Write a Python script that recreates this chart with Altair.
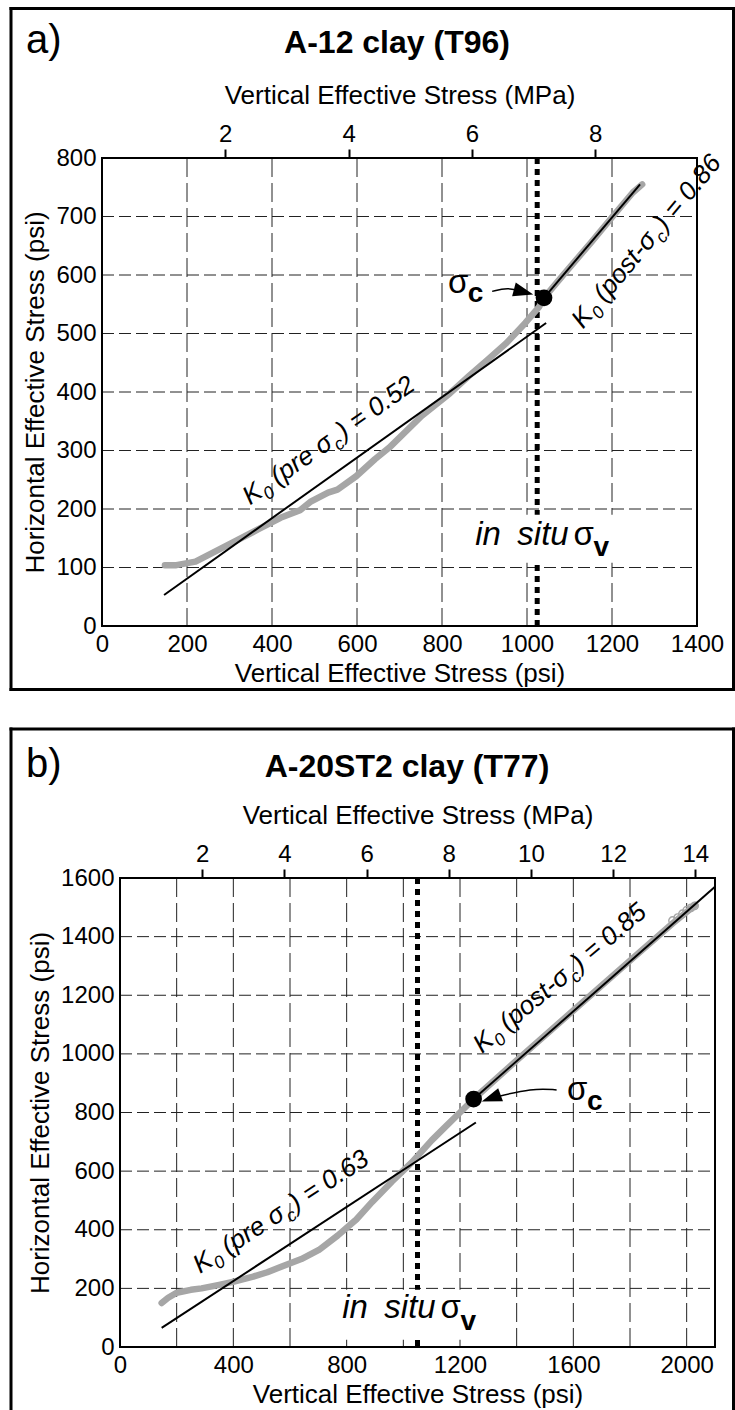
import altair as alt
import pandas as pd

FONT = "Liberation Sans"
PSI_PER_MPA = 145.038
GRAY = "#a6a6a6"
W, H = 735, 1410

# ---------------- panel a : A-12 clay (T96) ----------------
A_TITLE = "A-12 clay (T96)"
A_LETTER = "a)"
A_X_TICKS = [0, 200, 400, 600, 800, 1000, 1200, 1400]
A_Y_TICKS = [0, 100, 200, 300, 400, 500, 600, 700, 800]
A_MPA_TICKS = [2, 4, 6, 8]
A_CURVE_X = [148, 175, 220, 260, 300, 367, 420, 466, 490, 532, 554, 598, 642, 676,
             752, 819, 863, 907, 952, 996, 1029, 1040, 1084, 1150, 1205, 1249, 1271]
A_CURVE_Y = [104, 104, 110, 125, 140, 165, 185, 198, 212, 228, 233, 256, 285, 305,
             359, 398, 427, 455, 484, 518, 546, 561, 599, 655, 703, 741, 755]
A_PRE_X = [146, 1045]
A_PRE_Y = [53, 518]
A_POST_X = [1040, 1266]
A_POST_Y = [561, 755]
A_SIGC_X = [1040]
A_SIGC_Y = [561]
A_INSITU_X = 1024
A_PRE_K = "0.52"
A_POST_K = "0.86"
A_ARROW_X = [918, 955, 992]
A_ARROW_Y = [572, 579, 571]

# ---------------- panel b : A-20ST2 clay (T77) ----------------
B_TITLE = "A-20ST2 clay (T77)"
B_LETTER = "b)"
B_X_TICKS = [0, 200, 400, 600, 800, 1000, 1200, 1400, 1600, 1800, 2000]
B_Y_TICKS = [0, 200, 400, 600, 800, 1000, 1200, 1400, 1600]
B_MPA_TICKS = [2, 4, 6, 8, 10, 12, 14]
B_CURVE_X = [147, 170, 200, 250, 288, 350, 402, 470, 520, 569, 640, 702, 768, 834,
             890, 960, 1030, 1100, 1149, 1200, 1248, 1400, 1600, 1800, 1950, 2030]
B_CURVE_Y = [150, 168, 185, 195, 200, 212, 223, 240, 255, 274, 300, 331, 380, 435,
             495, 565, 630, 705, 752, 800, 846, 978, 1148, 1318, 1445, 1508]
B_CIRCLE_X = [1950, 1968, 1985, 2000, 2015, 2028]
B_CIRCLE_Y = [1455, 1465, 1478, 1490, 1498, 1505]
B_PRE_X = [147, 1256]
B_PRE_Y = [65, 766]
B_POST_X = [1248, 2100]
B_POST_Y = [846, 1570]
B_SIGC_X = [1248]
B_SIGC_Y = [846]
B_INSITU_X = 1050
B_PRE_K = "0.63"
B_POST_K = "0.85"
B_ARROW_X = [1541, 1458, 1310]
B_ARROW_Y = [877, 884, 849]

# approximate advance widths (em) of Liberation Sans
W_REG = {' ': .278, '(': .333, ')': .333, '=': .584, '.': .278, '-': .333, 'K': .667,
         'p': .556, 'r': .333, 'e': .556, 'o': .556, 's': .5, 't': .278, 'c': .5,
         'i': .222, 'n': .556, 'u': .556, 'σ': .6, 'v': .5}
W_BOLD = {'c': .556, 'v': .556}
ARROW_HEAD = "M-1,-0.7L1,0L-1,0.7Z"


def text_width(text, weight):
    tab = W_BOLD if weight == "bold" else W_REG
    return sum(tab.get(ch, W_REG.get(ch, .556)) for ch in text)


def k_segs(kind, val):
    return [("K", 1, 0, "italic", "normal", 0),
            ("0", .68, .25, "italic", "normal", .02),
            (f"({kind}σ", 1, 0, "italic", "normal", .25),
            ("c", .68, .25, "italic", "normal", .03),
            (f") = {val}", 1, 0, "italic", "normal", .07)]


SIGC_SEGS = [("σ", 1, 0, "normal", "normal", 0), ("c", .85, .3, "normal", "bold", 0)]
INSITU_SEGS = [("in", 1, 0, "italic", "normal", 0),
               ("situ", 1, 0, "italic", "normal", .5),
               ("σ", 1, 0, "normal", "normal", .15),
               ("v", .85, .35, "normal", "bold", 0)]


def panel_layers(p):
    x0, x1 = p["px_x"]
    y0, y1 = p["px_y"]          # pixel rows of y = 0 and y = ymax
    xs = alt.Scale(domain=[0, p["xmax"]], range=[x0, x1], nice=False, zero=False)
    ys = alt.Scale(domain=[0, p["ymax"]], range=[y0, y1], nice=False, zero=False)

    def X(f="x", axis=None):
        return alt.X(f"{f}:Q", scale=xs, axis=axis)

    def Y(f="y", axis=None):
        return alt.Y(f"{f}:Q", scale=ys, axis=axis)

    one = pd.DataFrame({"k": [0]})
    L = []

    def text_run(ax, ay, segs, base, angle=None):
        df = pd.DataFrame({"x": [ax], "y": [ay]})
        cum = 0.0
        for text, k, dyk, style, weight, gap in segs:
            cum += gap * base
            fs = base * k
            mk = dict(text=text, dx=round(cum, 2), dy=round(base * dyk, 2), fontSize=fs,
                      font=FONT, fontStyle=style, fontWeight=weight, align="left",
                      baseline="alphabetic", color="black")
            if angle is not None:
                mk["angle"] = angle
            L.append(alt.Chart(df).mark_text(**mk).encode(x=X(), y=Y()))
            cum += text_width(text, weight) * fs

    # dashed grid
    gx = [v for v in p["xticks"] if 0 < v < p["xmax"]]
    gy = [v for v in p["yticks"] if 0 < v < p["ymax"]]
    L.append(alt.Chart(pd.DataFrame({"x": gx, "y": p["ymax"], "y2": 0}))
             .mark_rule(color="#222222", strokeWidth=1, strokeDash=[19, 6])
             .encode(x=X(), y=Y(), y2="y2:Q"))
    L.append(alt.Chart(pd.DataFrame({"y": gy, "x": 0, "x2": p["xmax"]}))
             .mark_rule(color="#222222", strokeWidth=1, strokeDash=[12, 5])
             .encode(x=X(), x2="x2:Q", y=Y()))

    # in situ vertical stress (dotted) and white label background
    L.append(alt.Chart(pd.DataFrame({"x": [p["insitu"]], "y": [p["ymax"]], "y2": [0]}))
             .mark_rule(color="black", strokeWidth=5, strokeDash=[6, 5])
             .encode(x=X(), y=Y(), y2="y2:Q"))
    bx1, bx2, by1, by2 = p["box"]
    L.append(alt.Chart(pd.DataFrame({"x1": [bx1], "x2": [bx2], "y1": [by1], "y2": [by2]}))
             .mark_rect(color="white")
             .encode(x=X("x1"), x2="x2:Q", y=Y("y1"), y2="y2:Q"))

    # measured curve
    curve = pd.DataFrame({"x": p["curve_x"], "y": p["curve_y"],
                          "o": list(range(len(p["curve_x"])))})
    L.append(alt.Chart(curve).mark_line(
        color=GRAY, strokeWidth=6.5, strokeCap="round", strokeJoin="round")
        .encode(x=X(), y=Y(), order="o:Q"))
    if p.get("circles_x"):
        L.append(alt.Chart(pd.DataFrame({"x": p["circles_x"], "y": p["circles_y"]}))
                 .mark_point(shape="circle", filled=False, color=GRAY, size=55,
                             strokeWidth=1.4, opacity=1)
                 .encode(x=X(), y=Y()))

    # K0 fit lines
    for lx_, ly_ in [(p["pre_x"], p["pre_y"]), (p["post_x"], p["post_y"])]:
        L.append(alt.Chart(pd.DataFrame({"x": lx_, "y": ly_}))
                 .mark_line(color="black", strokeWidth=2).encode(x=X(), y=Y()))

    # preconsolidation point + arrow
    L.append(alt.Chart(pd.DataFrame({"x": p["sigc_x"], "y": p["sigc_y"]}))
             .mark_circle(color="black", size=280, opacity=1).encode(x=X(), y=Y()))
    L.append(alt.Chart(pd.DataFrame({"x": p["arrow_x"], "y": p["arrow_y"], "o": [0, 1, 2]}))
             .mark_line(color="black", strokeWidth=1.5, interpolate="basis")
             .encode(x=X(), y=Y(), order="o:Q"))
    hx, hy, hang = p["head"]
    L.append(alt.Chart(pd.DataFrame({"x": [hx], "y": [hy]}))
             .mark_point(shape=ARROW_HEAD, filled=True, color="black", size=400,
                         angle=hang, opacity=1, strokeWidth=0)
             .encode(x=X(), y=Y()))

    # annotations
    text_run(*p["sigc_text"], SIGC_SEGS, 33)
    text_run(*p["insitu_text"], INSITU_SEGS, 33)
    ax_, ay_, ang = p["pre_label"]
    text_run(ax_, ay_, k_segs("pre ", p["pre_k"]), 26, angle=ang)
    ax_, ay_, ang = p["post_label"]
    text_run(ax_, ay_, k_segs("post-", p["post_k"]), 26, angle=ang)

    # plot-area border
    L.append(alt.Chart(one).mark_rect(filled=False, stroke="black", strokeWidth=2)
             .encode(x=alt.value(x0), x2=alt.value(x1), y=alt.value(y1), y2=alt.value(y0)))

    # outer frame of the panel
    fl, fr, ft, fb = p["frame"]
    rule = dict(color="black", strokeWidth=3, strokeCap="square")
    L.append(alt.Chart(one).mark_rule(**rule).encode(
        x=alt.value(fl), x2=alt.value(fr), y=alt.value(ft)))
    L.append(alt.Chart(one).mark_rule(**rule).encode(
        x=alt.value(fl), y=alt.value(ft), y2=alt.value(fb)))
    L.append(alt.Chart(one).mark_rule(**rule).encode(
        x=alt.value(fr), y=alt.value(ft), y2=alt.value(fb)))
    if p["frame_bottom"]:
        L.append(alt.Chart(one).mark_rule(**rule).encode(
            x=alt.value(fl), x2=alt.value(fr), y=alt.value(fb)))

    # panel letter and title
    lx, ly = p["letter_pos"]
    L.append(alt.Chart(one).mark_text(
        text=p["letter"], font=FONT, fontSize=40, align="left", baseline="alphabetic",
        color="black").encode(x=alt.value(lx), y=alt.value(ly)))
    tx, ty = p["title_pos"]
    L.append(alt.Chart(one).mark_text(
        text=p["title"], font=FONT, fontSize=32, fontWeight="bold", align="center",
        baseline="alphabetic", color="black").encode(x=alt.value(tx), y=alt.value(ty)))

    # axes (carried by invisible points)
    common = dict(labelFont=FONT, labelFontSize=24, labelColor="black", labelFlush=False,
                  labelOverlap=False, grid=False, domain=False, titleFont=FONT,
                  titleFontSize=26, titleFontWeight="normal", titleColor="black")
    mpa_psi = [m * PSI_PER_MPA for m in p["mpa"]]
    top_axis = alt.Axis(orient="top", offset=-y1, values=mpa_psi,
                        labelExpr=f"format(datum.value / {PSI_PER_MPA}, '.0f')",
                        ticks=True, tickSize=9, tickWidth=2, tickColor="black",
                        labelPadding=3, title="Vertical Effective Stress (MPa)",
                        titlePadding=14, **common)
    L.append(alt.Chart(pd.DataFrame({"v": mpa_psi})).mark_point(opacity=0)
             .encode(x=X("v", top_axis), y=alt.value(y1)))
    bottom_axis = alt.Axis(orient="bottom", offset=y0 - H, values=p["xticks"], format="d",
                           labelExpr=p["xlabel_expr"], ticks=False, labelPadding=6,
                           title="Vertical Effective Stress (psi)", titlePadding=4,
                           **common)
    L.append(alt.Chart(pd.DataFrame({"v": p["xticks"]})).mark_point(opacity=0)
             .encode(x=X("v", bottom_axis), y=alt.value(y0)))
    left_axis = alt.Axis(orient="left", offset=-x0, values=p["yticks"], format="d",
                         ticks=False, labelPadding=6,
                         title="Horizontal Effective Stress (psi)", titlePadding=7,
                         **common)
    L.append(alt.Chart(pd.DataFrame({"v": p["yticks"]})).mark_point(opacity=0)
             .encode(y=Y("v", left_axis), x=alt.value(x0)))
    return L


layers_a = panel_layers(dict(
    xmax=1400, ymax=800, px_x=(102, 697), px_y=(626, 158),
    frame=(11, 733.5, 8.5, 689.5), frame_bottom=True,
    letter=A_LETTER, letter_pos=(26, 53), title=A_TITLE, title_pos=(397, 53),
    mpa=A_MPA_TICKS, xticks=A_X_TICKS, yticks=A_Y_TICKS, xlabel_expr="datum.label",
    curve_x=A_CURVE_X, curve_y=A_CURVE_Y,
    pre_x=A_PRE_X, pre_y=A_PRE_Y, post_x=A_POST_X, post_y=A_POST_Y,
    sigc_x=A_SIGC_X, sigc_y=A_SIGC_Y, insitu=A_INSITU_X,
    box=(845, 1290, 108, 190),
    arrow_x=A_ARROW_X, arrow_y=A_ARROW_Y, head=(992, 571, 15),
    sigc_text=(814, 570), insitu_text=(878, 139),
    pre_label=(348, 206, 325), pre_k=A_PRE_K,
    post_label=(1132, 507, 310), post_k=A_POST_K,
))

layers_b = panel_layers(dict(
    xmax=2100, ymax=1600, px_x=(120, 715), px_y=(1347, 878),
    frame=(11, 733.5, 729, 1412), frame_bottom=False,
    letter=B_LETTER, letter_pos=(26, 777), title=B_TITLE, title_pos=(407, 777),
    mpa=B_MPA_TICKS, xticks=B_X_TICKS, yticks=B_Y_TICKS,
    xlabel_expr="datum.value % 400 == 0 ? datum.label : ''",
    curve_x=B_CURVE_X, curve_y=B_CURVE_Y, circles_x=B_CIRCLE_X, circles_y=B_CIRCLE_Y,
    pre_x=B_PRE_X, pre_y=B_PRE_Y, post_x=B_POST_X, post_y=B_POST_Y,
    sigc_x=B_SIGC_X, sigc_y=B_SIGC_Y, insitu=B_INSITU_X,
    box=(770, 1330, 25, 195),
    arrow_x=B_ARROW_X, arrow_y=B_ARROW_Y, head=(1310, 849, 160),
    sigc_text=(1578, 843), insitu_text=(784, 99),
    pre_label=(282, 249, 327), pre_k=B_PRE_K,
    post_label=(1278, 1000, 320), post_k=B_POST_K,
))

chart = alt.layer(*layers_a, *layers_b).resolve_scale(
    x="independent", y="independent"
).properties(
    width=W, height=H, padding=0, background="white",
    autosize=alt.AutoSizeParams(type="none"),
).configure_view(strokeWidth=0)

chart.save("out.html", embed_options={"renderer": "svg", "actions": False})
